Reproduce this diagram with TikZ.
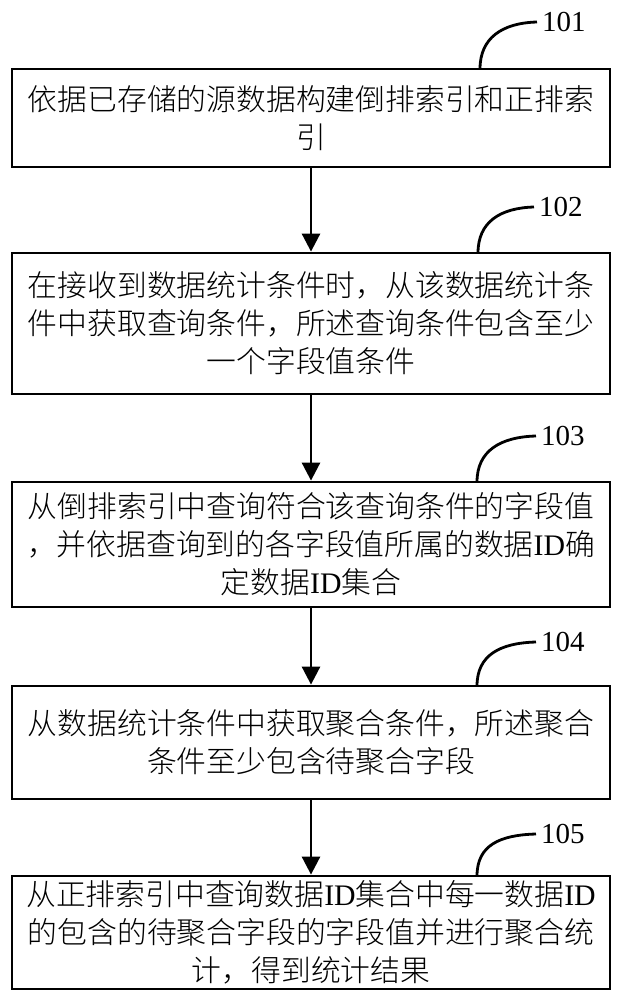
\documentclass[tikz,border=0pt]{standalone}
\usepackage{fontspec}
\setmainfont{Liberation Serif}
\newfontfamily\cjk{Noto Sans CJK SC Light}
\newfontfamily\latn{Liberation Serif}
\usetikzlibrary{arrows.meta}
\begin{document}
\begin{tikzpicture}[x=1pt,y=1pt,
  stepbox/.style={draw=black,line width=2.8pt,minimum width=598pt,inner sep=0pt,align=center,
    font=\cjk\fontsize{29.8}{38}\selectfont},
  flow/.style={line width=2.8pt,-{Triangle[length=18pt,width=18pt]}},
  lead/.style={line width=2.8pt},
  numlabel/.style={anchor=west,inner sep=5pt,font=\latn\fontsize{29}{29}\selectfont}]
\useasboundingbox (0,0) rectangle (621,-1000);
\node[stepbox,minimum height=98pt] (b1) at (311,-118) {依据已存储的源数据构建倒排索引和正排索\\引};
\node[stepbox,minimum height=141pt] (b2) at (311,-323.5) {在接收到数据统计条件时，从该数据统计条\\件中获取查询条件，所述查询条件包含至少\\一个字段值条件};
\node[stepbox,minimum height=125pt] (b3) at (311,-544.5) {从倒排索引中查询符合该查询条件的字段值\\，并依据查询到的各字段值所属的数据{\latn ID}确\\定数据{\latn ID}集合};
\node[stepbox,minimum height=113pt] (b4) at (311,-742.5) {从数据统计条件中获取聚合条件，所述聚合\\条件至少包含待聚合字段};
\node[stepbox,minimum height=113pt] (b5) at (311,-932.5) {从正排索引中查询数据{\latn ID}集合中每一数据{\latn ID}\\的包含的待聚合字段的字段值并进行聚合统\\计，得到统计结果};
\draw[flow] (b1.south) -- (b2.north);
\draw[flow] (b2.south) -- (b3.north);
\draw[flow] (b3.south) -- (b4.north);
\draw[flow] (b4.south) -- (b5.north);
\node[numlabel] (l1) at (537,-22) {101};
\node[numlabel] (l2) at (534,-207) {102};
\node[numlabel] (l3) at (536,-436) {103};
\node[numlabel] (l4) at (536,-642) {104};
\node[numlabel] (l5) at (536,-834) {105};
\coordinate (c1) at (480,-69);
\coordinate (c2) at (478,-253);
\coordinate (c3) at (477,-482);
\coordinate (c4) at (477,-686);
\coordinate (c5) at (477,-876);
\draw[lead] (c1) .. controls (480,-38) and (502,-23) .. (l1.west);
\draw[lead] (c2) .. controls (478,-222) and (500,-208) .. (l2.west);
\draw[lead] (c3) .. controls (477,-451) and (500,-437) .. (l3.west);
\draw[lead] (c4) .. controls (477,-655) and (500,-643) .. (l4.west);
\draw[lead] (c5) .. controls (477,-845) and (500,-835) .. (l5.west);
\end{tikzpicture}
\end{document}
